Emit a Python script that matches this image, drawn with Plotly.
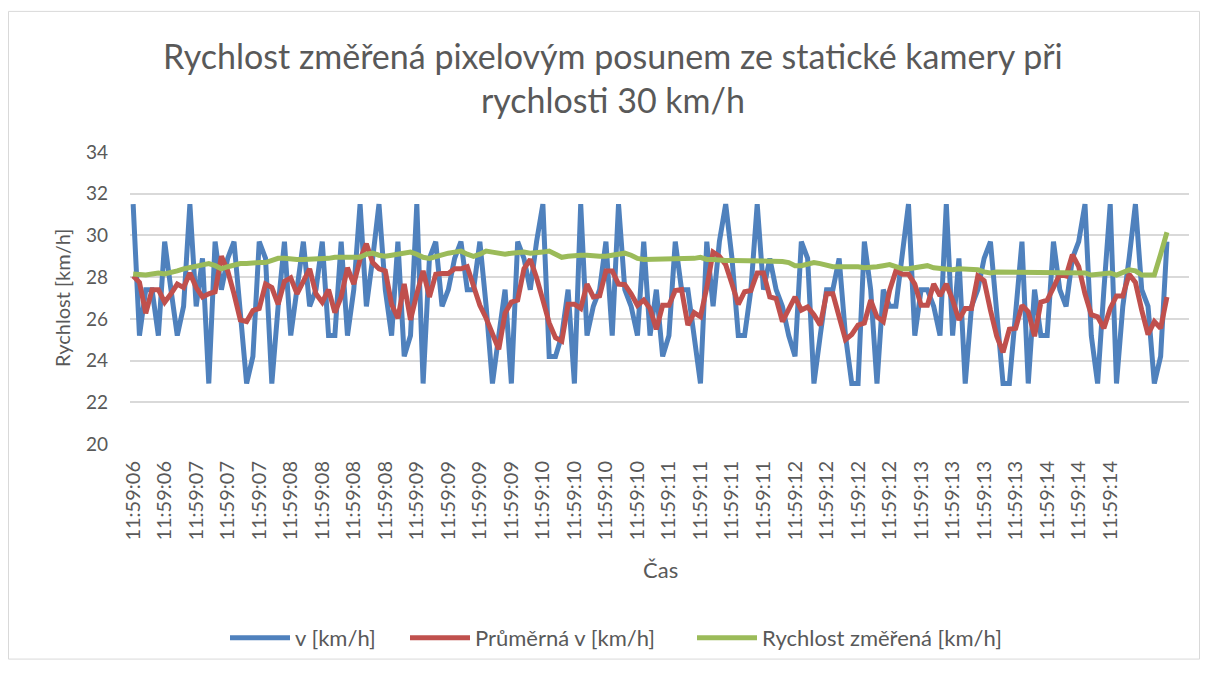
import plotly.graph_objects as go

# --- data ---
v_kmh = [31.5, 25.2, 27.4, 27.4, 25.2, 29.7, 27.4, 25.2, 26.6, 31.5,
         26.6, 28.9, 22.9, 29.7, 27.4, 28.9, 29.7, 26.6, 22.9, 24.2,
         29.7, 28.9, 22.9, 26.6, 29.7, 25.2, 27.4, 29.7, 26.6, 27.4,
         29.7, 25.2, 25.2, 29.7, 25.2, 27.4, 31.5, 26.6, 28.9, 31.5,
         27.4, 25.2, 29.7, 24.2, 25.2, 31.5, 22.9, 28.9, 29.7, 26.6,
         27.4, 28.9, 29.7, 27.4, 27.4, 29.7, 26.6, 22.9, 25.2, 27.4,
         22.9, 29.7, 28.9, 27.4, 29.7, 31.5, 24.2, 24.2, 25.2, 27.4,
         22.9, 31.5, 25.2, 26.6, 27.4, 29.7, 25.2, 31.5, 27.4, 26.6,
         25.2, 29.7, 25.2, 27.4, 24.2, 25.2, 29.7, 27.4, 27.4, 25.2,
         22.9, 29.7, 26.6, 29.7, 31.5, 28.9, 25.2, 25.2, 27.4, 31.5,
         27.4, 28.9, 27.4, 26.6, 25.2, 24.2, 29.7, 28.9, 22.9, 25.2,
         27.4, 27.4, 28.9, 25.2, 22.9, 22.9, 29.7, 27.4, 22.9, 27.4,
         26.6, 26.6, 28.9, 31.5, 25.2, 27.4, 27.4, 26.6, 25.2, 31.5,
         25.2, 28.9, 22.9, 26.6, 27.4, 28.9, 29.7, 26.6, 22.9, 22.9,
         26.6, 29.7, 22.9, 27.4, 25.2, 25.2, 29.7, 27.4, 26.6, 28.9,
         29.7, 31.5, 25.2, 22.9, 27.4, 31.5, 22.9, 26.6, 28.9, 31.5,
         27.4, 26.6, 22.9, 24.2, 29.7]

avg_v = [28.06, 27.75, 26.27, 27.4, 27.4, 26.8, 27.2, 27.67, 27.5, 28.2,
         27.5, 27.05, 27.2, 27.3, 29.0, 28.3, 27.2, 25.95, 25.87, 26.4,
         26.5, 27.67, 27.5, 26.7, 27.8, 27.97, 27.2, 27.8, 28.4, 27.2,
         26.8, 27.4, 26.3, 27.05, 28.45, 27.67, 28.85, 29.6, 28.7, 28.4,
         28.3, 26.7, 26.03, 27.67, 25.95, 27.2, 28.3, 27.05, 28.14, 28.17,
         28.17, 28.4, 28.4, 28.5, 27.5, 26.65, 26.03, 25.3, 24.54, 26.27,
         26.8, 26.9, 28.4, 28.85, 27.97, 26.9, 25.8, 25.1, 24.93, 26.7,
         26.7, 26.5, 27.67, 27.05, 27.1, 28.3, 28.3, 27.67, 27.64, 27.2,
         26.65, 26.9, 26.5, 25.5, 26.65, 26.65, 27.36, 27.4, 25.7, 26.3,
         26.1, 27.5, 29.2, 29.0, 28.6, 27.67, 26.7, 27.3, 27.36, 28.2,
         28.2, 27.05, 26.97, 25.87, 26.5, 27.05, 26.42, 26.57, 26.2, 25.7,
         27.2, 27.2, 26.1, 25.0, 25.25, 25.7, 25.8, 26.9, 26.1, 25.87,
         27.36, 28.3, 28.14, 28.14, 27.67, 26.65, 26.65, 27.67, 27.1, 27.67,
         26.9, 25.95, 26.5, 26.5, 28.06, 27.83, 26.42, 25.17, 24.4, 25.5,
         25.55, 26.65, 26.34, 25.17, 26.8, 26.9, 27.5, 28.14, 28.06, 29.08,
         28.5, 27.2, 26.2, 26.1, 25.55, 26.5, 27.1, 27.1, 28.14, 27.75,
         26.42, 25.25, 25.87, 25.55, 27.05]

measured = [28.15, 28.1, 28.1, 28.15, 28.2, 28.15, 28.2, 28.3, 28.4, 28.45,
            28.55, 28.6, 28.65, 28.55, 28.4, 28.5, 28.6, 28.65, 28.65, 28.7,
            28.7, 28.7, 28.8, 28.9, 28.9, 28.85, 28.85, 28.85, 28.85, 28.9,
            28.9, 28.9, 28.95, 28.95, 28.95, 29.0, 28.95, 29.1, 29.15, 29.05,
            29.0, 29.05, 29.1, 29.15, 29.2, 29.1, 28.95, 28.9, 29.0, 29.05,
            29.15, 29.2, 29.25, 29.1, 29.0, 29.1, 29.25, 29.2, 29.15, 29.1,
            29.15, 29.2, 29.2, 29.15, 29.15, 29.2, 29.25, 29.1, 28.95, 29.0,
            29.05, 29.05, 29.05, 29.0, 29.0, 29.0, 29.05, 29.1, 29.15, 29.05,
            28.9, 28.85, 28.85, 28.85, 28.9, 28.9, 28.9, 28.9, 28.85, 28.9,
            28.95, 28.85, 28.85, 28.8, 28.8, 28.8, 28.8, 28.8, 28.8, 28.8,
            28.8, 28.8, 28.8, 28.75, 28.7, 28.55, 28.55, 28.65, 28.7, 28.65,
            28.55, 28.5, 28.5, 28.5, 28.55, 28.5, 28.45, 28.45, 28.5, 28.55,
            28.6, 28.5, 28.4, 28.4, 28.45, 28.5, 28.55, 28.45, 28.4, 28.35,
            28.35, 28.4, 28.4, 28.4, 28.35, 28.25, 28.2, 28.25, 28.25, 28.25,
            28.25, 28.25, 28.2, 28.2, 28.2, 28.2, 28.2, 28.2, 28.2, 28.2,
            28.25, 28.2, 28.1, 28.15, 28.15, 28.2, 28.1, 28.2, 28.35, 28.3,
            28.1, 28.1, 28.1, 29.1, 30.15]

tick_labels = ["11:59:06", "11:59:06", "11:59:07", "11:59:07", "11:59:07",
               "11:59:08", "11:59:08", "11:59:08", "11:59:08", "11:59:09",
               "11:59:09", "11:59:09", "11:59:09", "11:59:10", "11:59:10",
               "11:59:10", "11:59:10", "11:59:11", "11:59:11", "11:59:11",
               "11:59:11", "11:59:12", "11:59:12", "11:59:12", "11:59:12",
               "11:59:13", "11:59:13", "11:59:13", "11:59:13", "11:59:14",
               "11:59:14", "11:59:14"]
label_step = 5
n_categories = 168

series_names = ["v [km/h]", "Průměrná v [km/h]", "Rychlost změřená [km/h]"]
colors = ["#4F81BD", "#C0504D", "#9BBB59"]
legend_ids = ["legend", "legend2", "legend3"]

FONT = "Lato, 'Open Sans', sans-serif"
GRAY = "#595959"

# figure geometry (page is offset by the 8px body margin)
W, H = 1192, 662
ML, MR, MT, MB = 122, 11, 144, 220
PW, PH = W - ML - MR, H - MT - MB


def px_x(x):
    return (x - ML) / PW


def px_y(y):
    return (H - MB - y) / PH


fig = go.Figure()
for name, ys, col, lg in zip(series_names, [v_kmh, avg_v, measured], colors, legend_ids):
    fig.add_trace(go.Scatter(
        x=list(range(len(ys))), y=ys, mode="lines", name=name,
        line=dict(color=col, width=5), legend=lg,
    ))

legend_common = dict(orientation="h", xanchor="left", yanchor="middle",
                     font=dict(family=FONT, size=22, color=GRAY),
                     itemwidth=60, bgcolor="rgba(0,0,0,0)", borderwidth=0)
legend_x = [217, 397, 684]
fig.update_layout(
    width=W, height=H,
    margin=dict(l=ML, r=MR, t=MT, b=MB),
    paper_bgcolor="white", plot_bgcolor="white",
    font=dict(family=FONT, color=GRAY, size=18),
    showlegend=True,
    legend=dict(x=px_x(legend_x[0]), y=px_y(640), **legend_common),
    legend2=dict(x=px_x(legend_x[1]), y=px_y(640), **legend_common),
    legend3=dict(x=px_x(legend_x[2]), y=px_y(640), **legend_common),
)

fig.update_xaxes(
    range=[-0.5, n_categories - 0.5],
    tickmode="array",
    tickvals=[i * label_step for i in range(len(tick_labels))],
    ticktext=tick_labels,
    tickangle=-90,
    showgrid=False, zeroline=False,
    showline=False, ticks="",
    tickfont=dict(family=FONT, size=20, color=GRAY),
    ticklabelstandoff=12,
)
fig.update_yaxes(
    range=[20, 34], dtick=2,
    showgrid=True, gridcolor="#d9d9d9", gridwidth=1.5,
    zeroline=False, showline=False, ticks="",
    tickfont=dict(family=FONT, size=19, color=GRAY),
    ticklabelstandoff=21,
)

fig.add_annotation(text="Rychlost změřená pixelovým posunem ze statické kamery při<br>rychlosti 30 km/h",
                   xref="paper", yref="paper", x=px_x(605), y=px_y(68),
                   showarrow=False, xanchor="center", yanchor="middle",
                   font=dict(family=FONT, size=34, color=GRAY))
fig.add_annotation(text="Rychlost [km/h]", xref="paper", yref="paper",
                   x=px_x(54), y=0.5, textangle=-90, showarrow=False,
                   xanchor="center", yanchor="middle",
                   font=dict(family=FONT, size=20, color=GRAY))
fig.add_annotation(text="Čas", xref="paper", yref="paper",
                   x=px_x(652), y=px_y(570), showarrow=False,
                   xanchor="center", yanchor="middle",
                   font=dict(family=FONT, size=22, color=GRAY))

fig.add_shape(type="rect", xref="paper", yref="paper",
              x0=px_x(0.5), x1=px_x(W - 0.5),
              y0=px_y(H - 0.5), y1=px_y(0.5),
              line=dict(color="#d9d9d9", width=1), fillcolor="rgba(0,0,0,0)",
              layer="below")

fig.write_html("out.html")
